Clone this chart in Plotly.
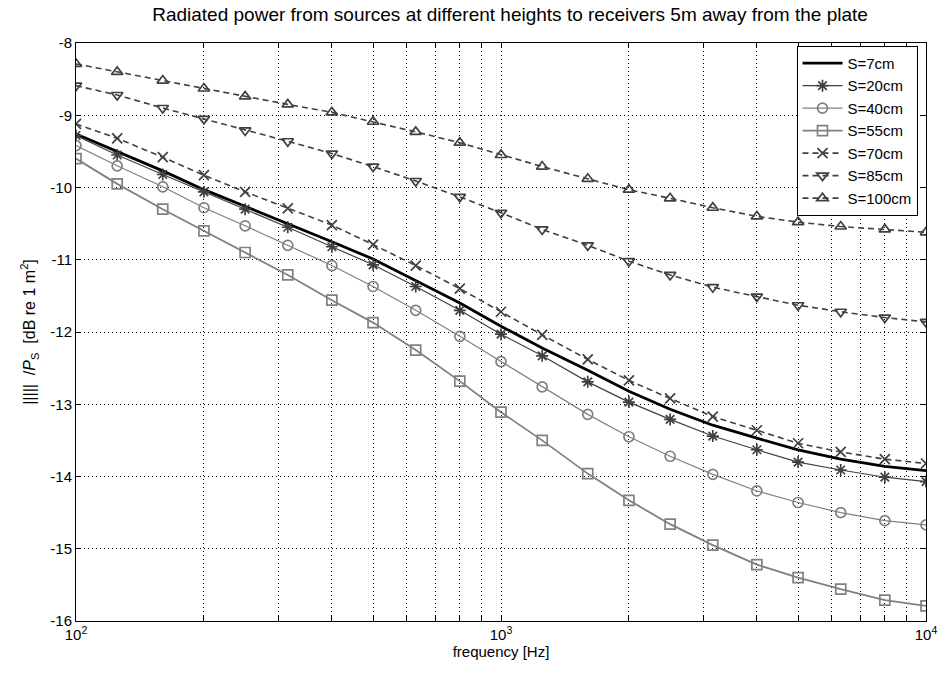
import plotly.graph_objects as go

freqs = [100, 125, 160, 200, 250, 315, 400, 500, 630, 800, 1000, 1250, 1600,
         2000, 2500, 3150, 4000, 5000, 6300, 8000, 10000]

s7 = [-9.26, -9.5, -9.77, -10.03, -10.26, -10.5, -10.75, -10.99, -11.29, -11.6,
      -11.92, -12.22, -12.53, -12.82, -13.07, -13.29, -13.47, -13.63, -13.76, -13.86, -13.92]
s20 = [-9.28, -9.55, -9.82, -10.06, -10.3, -10.55, -10.82, -11.07, -11.37, -11.7,
       -12.03, -12.33, -12.69, -12.97, -13.21, -13.44, -13.63, -13.8, -13.91, -14.01, -14.07]
s40 = [-9.42, -9.7, -9.99, -10.28, -10.53, -10.8, -11.08, -11.37, -11.7, -12.06,
       -12.41, -12.76, -13.14, -13.45, -13.72, -13.97, -14.2, -14.36, -14.5, -14.61, -14.67]
s55 = [-9.6, -9.95, -10.3, -10.6, -10.9, -11.21, -11.56, -11.87, -12.25, -12.68,
       -13.11, -13.5, -13.96, -14.33, -14.66, -14.95, -15.22, -15.4, -15.56, -15.71, -15.79]
s70 = [-9.12, -9.32, -9.58, -9.83, -10.06, -10.29, -10.52, -10.79, -11.08, -11.4,
       -11.72, -12.04, -12.38, -12.67, -12.92, -13.17, -13.36, -13.54, -13.66, -13.76, -13.82]
s85 = [-8.59, -8.72, -8.9, -9.05, -9.21, -9.36, -9.53, -9.71, -9.91, -10.13,
       -10.35, -10.58, -10.8, -11.02, -11.21, -11.38, -11.51, -11.63, -11.72, -11.8, -11.86]
s100 = [-8.29, -8.4, -8.52, -8.63, -8.74, -8.85, -8.96, -9.09, -9.23, -9.38,
        -9.55, -9.71, -9.88, -10.03, -10.15, -10.28, -10.4, -10.48, -10.54, -10.58, -10.62]

names = ["S=7cm", "S=20cm", "S=40cm", "S=55cm", "S=70cm", "S=85cm", "S=100cm"]
series = [s7, s20, s40, s55, s70, s85, s100]

xtick_vals = [100, 200, 300, 400, 500, 600, 700, 800, 900,
              1000, 2000, 3000, 4000, 5000, 6000, 7000, 8000, 9000, 10000]
xtick_text = ["10<sup>2</sup>", "", "", "", "", "", "", "", "",
              "10<sup>3</sup>", "", "", "", "", "", "", "", "", "10<sup>4</sup>"]
ytick_vals = [-16, -15, -14, -13, -12, -11, -10, -9, -8]
ytick_text = ["-16", "-15", "-14", "-13", "-12", "-11", "-10", "-9", "-8"]

styles = [
    dict(color="#000000", width=2.8, dash="solid", symbol=None),
    dict(color="#404040", width=1.2, dash="solid", symbol="asterisk-open"),
    dict(color="#808080", width=1.2, dash="solid", symbol="circle-open"),
    dict(color="#808080", width=1.8, dash="solid", symbol="square-open"),
    dict(color="#404040", width=1.6, dash="6px,4px", symbol="x-thin-open"),
    dict(color="#404040", width=1.6, dash="6px,4px", symbol="triangle-down-open"),
    dict(color="#404040", width=1.6, dash="6px,4px", symbol="triangle-up-open"),
]

fig = go.Figure()
for name, ys, st in zip(names, series, styles):
    if st["symbol"] is None:
        fig.add_trace(go.Scatter(x=freqs, y=ys, name=name, mode="lines",
                                 line=dict(color=st["color"], width=st["width"], dash=st["dash"])))
    else:
        fig.add_trace(go.Scatter(x=freqs, y=ys, name=name, mode="lines+markers",
                                 line=dict(color=st["color"], width=st["width"], dash=st["dash"]),
                                 marker=dict(symbol=st["symbol"], size=10, color=st["color"],
                                             line=dict(width=1.7, color=st["color"]))))

axis_common = dict(showline=True, linecolor="black", linewidth=1, mirror="ticks",
                   ticks="inside", ticklen=5, tickcolor="black",
                   showgrid=True, gridcolor="black", gridwidth=1, griddash="1px,3px",
                   zeroline=False, tickfont=dict(size=15, color="black"),
                   ticklabeloverflow="allow")

fig.update_layout(
    width=948, height=673,
    margin=dict(l=76, r=11, t=43, b=52),
    paper_bgcolor="white", plot_bgcolor="white",
    font=dict(family="Liberation Sans, Arial, sans-serif", size=15, color="black"),
    title=dict(text="Radiated power from sources at different heights to receivers 5m away from the plate",
               x=0.538, xanchor="center", y=0.988, yanchor="top", font=dict(size=19)),
    xaxis=dict(type="log", range=[2, 4], tickvals=xtick_vals, ticktext=xtick_text,
               title=dict(text="frequency [Hz]", standoff=2, font=dict(size=15)), **axis_common),
    yaxis=dict(range=[-16, -8], tickvals=ytick_vals, ticktext=ytick_text,
               title=dict(text="|||||  /<i>P</i><sub>S</sub>  [dB re 1 m<sup>2</sup>]", standoff=10,
                          font=dict(size=16)), **axis_common),
    legend=dict(x=0.99, y=0.995, xanchor="right", yanchor="top",
                bgcolor="white", bordercolor="black", borderwidth=1,
                font=dict(size=15), tracegroupgap=0, itemwidth=40),
    showlegend=True,
)

fig.write_html("out.html")
